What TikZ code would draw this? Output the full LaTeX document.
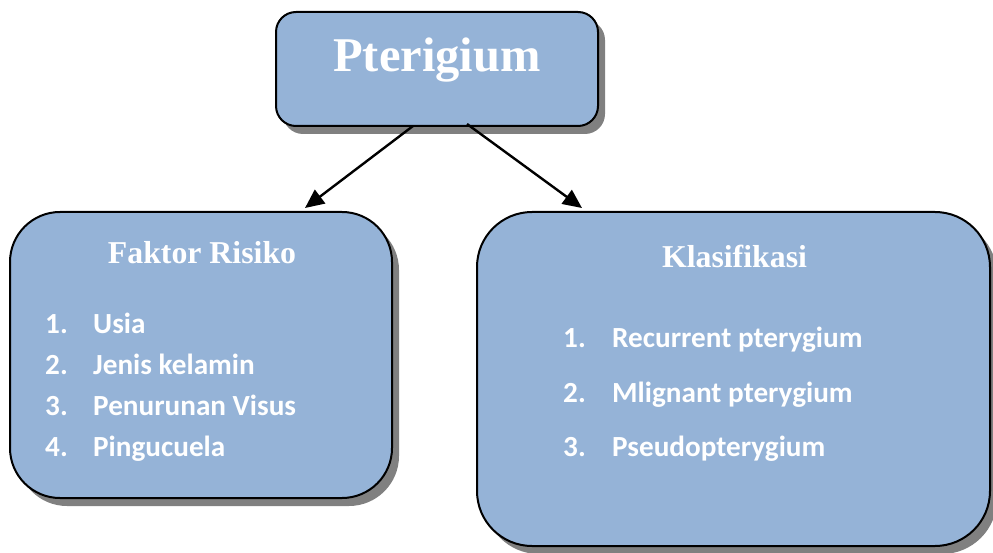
\documentclass[tikz,border=0pt]{standalone}
\usepackage{fontspec}
\setmainfont{Liberation Serif}
\newfontfamily\listfont{Carlito}
\usetikzlibrary{shadows,arrows.meta,calc}
\definecolor{boxblue}{HTML}{95B3D7}
\tikzset{
  box/.style={draw=black, line width=2pt, fill=boxblue, inner sep=0pt,
    drop shadow={shadow xshift=7pt, shadow yshift=-8pt, fill=black!50, opacity=1}},
  title/.style={anchor=base, text=white, font=\bfseries},
  item/.style={anchor=base west, text=white, font=\listfont\bfseries\fontsize{29.2}{31}\selectfont, inner sep=0pt},
  conn/.style={line width=2.4pt, -{Triangle[length=19pt, width=17pt]}}
}
\begin{document}
\begin{tikzpicture}[x=1pt, y=-1pt]
\useasboundingbox (0,0) rectangle (993,553);
% boxes
\node[box, rounded corners=20pt, minimum width=322pt, minimum height=114pt] (top) at (437,69) {};
\node[box, rounded corners=50pt, minimum width=382pt, minimum height=286pt] (left) at (201,355) {};
\node[box, rounded corners=55pt, minimum width=513pt, minimum height=334pt] (right) at (733.5,379) {};
% titles
\node[title, font=\bfseries\fontsize{48.5}{52}\selectfont] (ttop) at (437,72) {Pterigium};
\node[title, font=\bfseries\fontsize{31.8}{34}\selectfont] (tleft) at (202,264) {Faktor Risiko};
\node[title, font=\bfseries\fontsize{31.8}{34}\selectfont] (tright) at (734.5,268) {Klasifikasi};
% left list
\node[item] (l1n) at (45,333) {1.};  \node[item] (l1) at (93,333) {Usia};
\node[item] (l2n) at (45,374) {2.};  \node[item] (l2) at (93,374) {Jenis kelamin};
\node[item] (l3n) at (45,415) {3.};  \node[item] (l3) at (93,415) {Penurunan Visus};
\node[item] (l4n) at (45,456) {4.};  \node[item] (l4) at (93,456) {Pingucuela};
% right list
\node[item] (r1n) at (563,347) {1.}; \node[item] (r1) at (612,347) {Recurrent pterygium};
\node[item] (r2n) at (563,402) {2.}; \node[item] (r2) at (612,402) {Mlignant pterygium};
\node[item] (r3n) at (563,456) {3.}; \node[item] (r3) at (612,456) {Pseudopterygium};
% connectors
\coordinate (s1) at ($(top.south)+(-24,-1)$);
\coordinate (s2) at ($(top.south)+(30,-3)$);
\coordinate (e1) at ($(left.north)+(104,-3)$);
\coordinate (e2) at ($(right.north)+(-151.5,-3)$);
\draw[conn] (s1) -- (e1);
\draw[conn] (s2) -- (e2);
\end{tikzpicture}
\end{document}
